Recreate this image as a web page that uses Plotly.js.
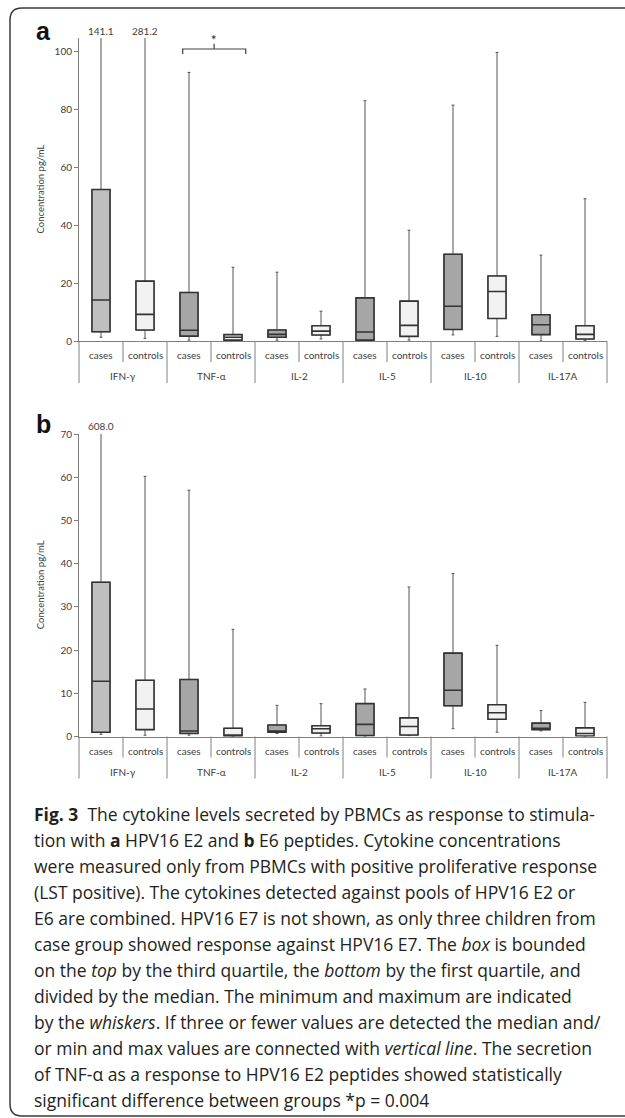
<!DOCTYPE html>
<html>
<head>
<meta charset="utf-8">
<script src="https://cdn.plot.ly/plotly-3.0.1.min.js"></script>
<style>html,body{margin:0;padding:0;background:#fff;}#chart{width:625px;height:1118px;}</style>
</head>
<body>
<div id="chart"></div>
<script>
// ---------- data ----------
const groups = ['IFN-γ', 'TNF-α', 'IL-2', 'IL-5', 'IL-10', 'IL-17A'];
const subgroups = ['cases', 'controls'];

// Panel a: HPV16 E2 (order: cases, controls for each cytokine)
const aMin = [1.3, 0.9, 0.3, 0.0, 0.3, 0.7, 0.0, 0.3, 2.1, 1.6, 0.0, 0.2];
const aQ1  = [3.2, 3.8, 1.7, 0.3, 1.3, 2.1, 0.3, 1.6, 4.0, 7.8, 2.2, 0.7];
const aMed = [14.2, 9.2, 3.7, 1.3, 2.3, 3.4, 3.1, 5.4, 12.0, 17.1, 5.6, 2.3];
const aQ3  = [52.4, 20.7, 16.8, 2.2, 3.8, 5.3, 14.9, 13.8, 30.0, 22.5, 9.1, 5.3];
const aMax = [141.1, 281.2, 92.9, 25.5, 23.8, 10.3, 83.1, 38.3, 81.6, 99.8, 29.7, 49.2];

// Panel b: HPV16 E6
const bMin = [0.5, 0.3, 0.3, 0.0, 0.7, 0.1, 0.0, 0.2, 1.8, 1.0, 1.3, 0.0];
const bQ1  = [1.0, 1.6, 0.7, 0.1, 1.0, 0.8, 0.2, 0.35, 7.1, 4.0, 1.6, 0.1];
const bMed = [12.8, 6.35, 1.27, 0.35, 1.27, 1.8, 2.8, 2.3, 10.7, 5.5, 1.9, 0.7];
const bQ3  = [35.7, 13.0, 13.2, 1.9, 2.65, 2.5, 7.6, 4.3, 19.3, 7.35, 3.1, 2.0];
const bMax = [608.0, 60.2, 57.0, 24.8, 7.2, 7.6, 11.0, 34.6, 37.7, 21.1, 6.0, 7.9];

const aYMax = 104.8, aDtick = 20;
const bYMax = 70, bDtick = 10;

const caption = [
  '<b>Fig. 3</b>\u00a0\u00a0The cytokine levels secreted by PBMCs as response to stimula-',
  'tion with <b>a</b> HPV16 E2 and <b>b</b> E6 peptides. Cytokine concentrations',
  'were measured only from PBMCs with positive proliferative response',
  '(LST positive). The cytokines detected against pools of HPV16 E2 or',
  'E6 are combined. HPV16 E7 is not shown, as only three children from',
  'case group showed response against HPV16 E7. The <i>box</i> is bounded',
  'on the <i>top</i> by the third quartile, the <i>bottom</i> by the first quartile, and',
  'divided by the median. The minimum and maximum are indicated',
  'by the <i>whiskers</i>. If three or fewer values are detected the median and/',
  'or min and max values are connected with <i>vertical line</i>. The secretion',
  'of TNF-α as a response to HPV16 E2 peptides showed statistically',
  'significant difference between groups *p\u00a0=\u00a00.004'
];

// ---------- layout geometry ----------
const W = 625, H = 1118;
const px = x => x / W;
const py = y => 1 - y / H;
const L = 79, R = 607;
const slot = (R - L) / 12;
const panels = [
  {key: 'a', top: 38, bot: 341, xa: 'x', ya: 'y', min: aMin, q1: aQ1, med: aMed, q3: aQ3, max: aMax, ymax: aYMax, dtick: aDtick, overY: 31, letterY: 31},
  {key: 'b', top: 434, bot: 736.5, xa: 'x2', ya: 'y2', min: bMin, q1: bQ1, med: bMed, q3: bQ3, max: bMax, ymax: bYMax, dtick: bDtick, overY: 426, letterY: 424}
];

const FONT = 'Lato, "Open Sans", sans-serif';
const lineCol = '#808080';
const colIFN = '#bfbfbf', colCase = '#a6a6a6', colCtrl = '#f2f2f2';

const traces = [];
const annotations = [];
const shapes = [];

panels.forEach(p => {
  const idx = p.min.map((_, i) => i);
  const sets = [
    {ids: idx.filter(i => i === 0), color: colIFN},
    {ids: idx.filter(i => i % 2 === 0 && i !== 0), color: colCase},
    {ids: idx.filter(i => i % 2 === 1), color: colCtrl}
  ];
  sets.forEach(s => {
    const pick = arr => s.ids.map(i => arr[i]);
    // whiskers
    traces.push({
      type: 'box', xaxis: p.xa, yaxis: p.ya, x: s.ids,
      q1: pick(p.q1), median: pick(p.med), q3: pick(p.q3),
      lowerfence: pick(p.min), upperfence: pick(p.max),
      width: 0.41, whiskerwidth: 0.16, boxpoints: false,
      fillcolor: s.color, line: {color: '#555555', width: 1},
      hoverinfo: 'skip', showlegend: false
    });
    // boxes with heavier outline
    traces.push({
      type: 'box', xaxis: p.xa, yaxis: p.ya, x: s.ids,
      q1: pick(p.q1), median: pick(p.med), q3: pick(p.q3),
      lowerfence: pick(p.q1), upperfence: pick(p.q3),
      width: 0.41, whiskerwidth: 0, boxpoints: false,
      fillcolor: s.color, line: {color: '#333333', width: 1.6},
      hoverinfo: 'skip', showlegend: false
    });
  });

  // sub labels and dividers
  idx.forEach(i => {
    annotations.push({xref: p.xa, yref: 'paper', x: i, y: py(p.bot + 14), text: subgroups[i % 2],
      showarrow: false, xanchor: 'center', yanchor: 'middle', font: {family: FONT, size: 10, color: '#404040'}});
  });
  groups.forEach((g, gi) => {
    annotations.push({xref: p.xa, yref: 'paper', x: gi * 2 + 0.5, y: py(p.bot + 35), text: g,
      showarrow: false, xanchor: 'center', yanchor: 'middle', font: {family: FONT, size: 10, color: '#404040'}});
  });
  for (let k = 0; k <= 12; k++) {
    const xx = px(L + slot * k);
    const long = (k % 2 === 0);
    shapes.push({type: 'line', xref: 'paper', yref: 'paper', x0: xx, x1: xx,
      y0: py(p.bot), y1: py(p.bot + (long ? 42 : 21)), line: {color: lineCol, width: 1}});
  }
  // over-range values
  p.max.forEach((v, i) => {
    if (v > p.ymax) {
      annotations.push({xref: p.xa, yref: 'paper', x: i, y: py(p.overY), text: v.toFixed(1),
        showarrow: false, xanchor: 'center', yanchor: 'middle', font: {family: FONT, size: 10, color: '#404040'}});
    }
  });
  // panel letter
  annotations.push({xref: 'paper', yref: 'paper', x: px(43), y: py(p.letterY), text: '<b>' + p.key + '</b>',
    showarrow: false, xanchor: 'center', yanchor: 'middle', font: {family: '"Liberation Sans", Arial, sans-serif', size: 25, color: '#111'}});
  // y-axis title
  annotations.push({xref: 'paper', yref: 'paper', x: px(40), y: py((p.top + p.bot) / 2), text: 'Concentration pg/mL',
    textangle: -90, showarrow: false, xanchor: 'center', yanchor: 'middle', font: {family: FONT, size: 9.5, color: '#404040'}});
});

// significance bracket (panel a, TNF-α)
shapes.push({type: 'path', xref: 'x', yref: 'y', path: 'M 1.857,99.3 L 1.857,101.0 L 3.289,101.0 L 3.289,99.3',
  line: {color: '#404040', width: 1.2}});
shapes.push({type: 'line', xref: 'x', yref: 'y', x0: 2.57, x1: 2.57, y0: 101.0, y1: 102.8, line: {color: '#404040', width: 1.2}});
annotations.push({xref: 'x', yref: 'paper', x: 2.57, y: py(40), text: '*', showarrow: false,
  xanchor: 'center', yanchor: 'middle', font: {family: FONT, size: 13, color: '#222'}});

// caption
caption.forEach((t, i) => {
  annotations.push({xref: 'paper', yref: 'paper', x: px(32), y: py(814 + 26 * i), text: t, showarrow: false,
    xanchor: 'left', yanchor: 'middle', align: 'left', font: {family: '"Open Sans", sans-serif', size: 17.5, color: '#231f20'}});
});

// frame
const r = 12;
shapes.push({type: 'path', xref: 'paper', yref: 'paper', layer: 'above',
  path: `M ${px(630)},${py(8)} L ${px(10 + r)},${py(8)} Q ${px(10)},${py(8)} ${px(10)},${py(8 + r)} L ${px(10)},${py(1116 - r)} Q ${px(10)},${py(1116)} ${px(10 + r)},${py(1116)} L ${px(630)},${py(1116)}`,
  line: {color: '#3a3a3a', width: 1.5}});

const xaxisBase = {range: [-0.5, 11.5], showticklabels: false, ticks: '', showgrid: false, zeroline: false,
  showline: true, linecolor: lineCol, linewidth: 1, domain: [px(L), px(R)], fixedrange: true};
const yaxisBase = {showgrid: false, zeroline: false, showline: true, linecolor: lineCol, linewidth: 1,
  ticks: 'outside', ticklen: 4, tickcolor: lineCol, tick0: 0, tickfont: {family: FONT, size: 10, color: '#404040'}, fixedrange: true};

const layout = {
  width: W, height: H,
  margin: {l: 0, r: 0, t: 0, b: 0},
  paper_bgcolor: '#ffffff', plot_bgcolor: 'rgba(0,0,0,0)',
  showlegend: false,
  boxmode: 'overlay',
  xaxis: Object.assign({}, xaxisBase, {anchor: 'y'}),
  xaxis2: Object.assign({}, xaxisBase, {anchor: 'y2'}),
  yaxis: Object.assign({}, yaxisBase, {anchor: 'x', range: [0, aYMax], dtick: aDtick,
    domain: [py(panels[0].bot), py(panels[0].top)]}),
  yaxis2: Object.assign({}, yaxisBase, {anchor: 'x2', range: [0, bYMax], dtick: bDtick,
    domain: [py(panels[1].bot), py(panels[1].top)]}),
  annotations: annotations,
  shapes: shapes
};

Plotly.newPlot('chart', traces, layout, {displayModeBar: false, staticPlot: true});
</script>
</body>
</html>
